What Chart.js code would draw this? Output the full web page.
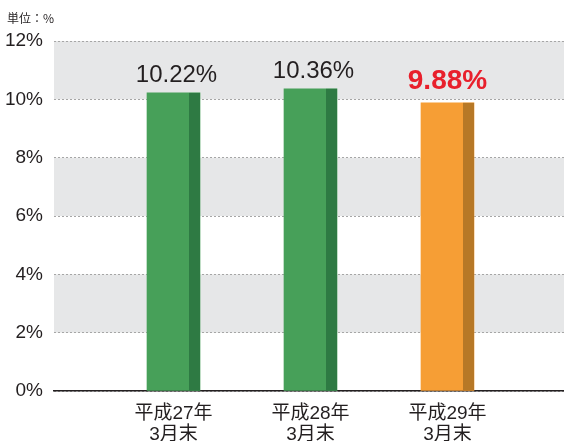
<!DOCTYPE html>
<html>
<head>
<meta charset="utf-8">
<script src="https://cdn.jsdelivr.net/npm/chart.js@4/dist/chart.umd.min.js"></script>
<style>
  body { margin: 0; background: #fff; }
  #wrap { position: relative; width: 564px; height: 441px; }
  #unit { position: absolute; left: 7px; top: 9px; font: 12px 'Noto Sans CJK JP', sans-serif; color: #231f20; }
</style>
</head>
<body>
<div id="wrap">
  <canvas id="chart" width="564" height="441"></canvas>
  <div id="unit">単位：%</div>
</div>
<script>
// Data
const categories = [['平成27年', '3月末'], ['平成28年', '3月末'], ['平成29年', '3月末']];
const positions = [1, 2, 3];
const ratios = [10.22, 10.36, 9.88];
const valueLabels = ['10.22%', '10.36%', '9.88%'];
const highlight = [false, false, true];
const yTicks = [0, 2, 4, 6, 8, 10, 12];
const bandRanges = [[10, 12], [6, 8], [2, 4]];

const frontColors = ['#47a059', '#47a059', '#f69e35'];
const sideColors = ['#2e7a43', '#2e7a43', '#b77826'];

const FONT = "'Liberation Sans', 'Noto Sans CJK JP', sans-serif";

// grey bands behind the grid
const bandPlugin = {
  id: 'bands',
  beforeDraw(chart) {
    const { ctx, chartArea, scales } = chart;
    ctx.save();
    ctx.fillStyle = '#e6e7e8';
    bandRanges.forEach(([lo, hi]) => {
      const top = scales.y.getPixelForValue(hi);
      const bottom = scales.y.getPixelForValue(lo);
      ctx.fillRect(chartArea.left, top, chartArea.right - chartArea.left, bottom - top);
    });
    ctx.restore();
  }
};

// darker right side of each bar and value labels
const barExtras = {
  id: 'barExtras',
  afterDatasetsDraw(chart) {
    const { ctx } = chart;
    const meta = chart.getDatasetMeta(0);
    ctx.save();
    meta.data.forEach((bar, i) => {
      const right = bar.x + bar.width / 2;
      ctx.fillStyle = sideColors[i];
      ctx.fillRect(right - 11, bar.y, 11, bar.base - bar.y);

      ctx.textAlign = 'center';
      ctx.textBaseline = 'alphabetic';
      if (highlight[i]) {
        ctx.font = 'bold 28px ' + FONT;
        ctx.fillStyle = '#e8202c';
        ctx.fillText(valueLabels[i], bar.x, bar.y - 14);
      } else {
        ctx.font = '24px ' + FONT;
        ctx.fillStyle = '#231f20';
        ctx.fillText(valueLabels[i], bar.x + 3, bar.y - 11);
      }
    });
    ctx.restore();
  }
};

new Chart(document.getElementById('chart'), {
  type: 'bar',
  data: {
    datasets: [{
      data: positions.map((x, i) => ({ x: x, y: ratios[i] })),
      backgroundColor: frontColors,
      barThickness: 53,
      borderWidth: 0
    }]
  },
  options: {
    responsive: false,
    animation: false,
    layout: { padding: { top: 41, right: 0, left: 0, bottom: 0 } },
    plugins: { legend: { display: false }, tooltip: { enabled: false } },
    scales: {
      x: {
        type: 'linear',
        offset: false,
        min: 0.1277,
        max: 3.8504,
        afterBuildTicks(scale) { scale.ticks = positions.map(v => ({ value: v })); },
        afterFit(scale) { scale.height = 50; },
        grid: { display: false, drawTicks: false, offset: false },
        border: { display: true, color: '#231f20', width: 1.5 },
        ticks: {
          padding: 12,
          autoSkip: false,
          maxRotation: 0,
          color: '#231f20',
          font: { family: FONT, size: 19, lineHeight: 1.12 },
          callback: (value, index) => categories[index]
        }
      },
      y: {
        min: 0,
        max: 12,
        afterBuildTicks(scale) { scale.ticks = yTicks.map(v => ({ value: v })); },
        afterFit(scale) { scale.width = 54; },
        grid: { color: '#a6a6a6', lineWidth: 1, drawTicks: false },
        border: { display: false, dash: [2, 2] },
        ticks: {
          padding: 11,
          color: '#231f20',
          font: { family: FONT, size: 19 },
          callback: v => v + '%'
        }
      }
    }
  },
  plugins: [bandPlugin, barExtras]
});
</script>
</body>
</html>
